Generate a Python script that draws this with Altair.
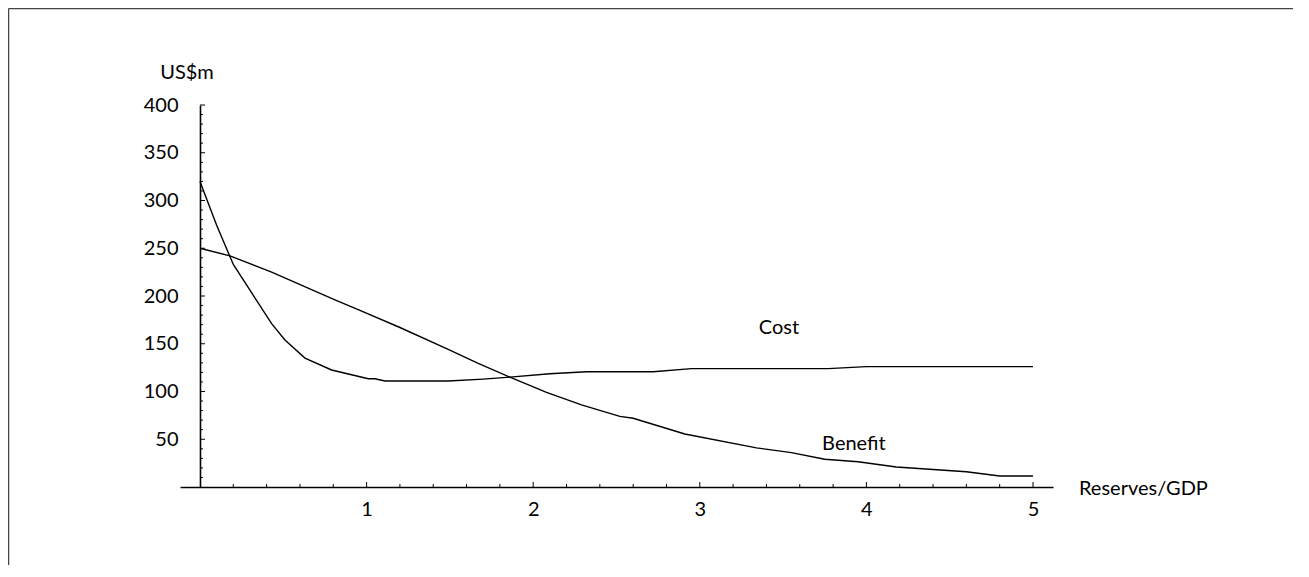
import altair as alt
import pandas as pd

# ---- data ----
COST_X = [0.0, 0.10, 0.20, 0.43, 0.51, 0.63, 0.79, 0.96, 1.01, 1.05, 1.11, 1.49, 1.70, 1.86, 2.10, 2.32, 2.72, 2.95, 3.77, 4.00, 5.00]
COST_Y = [320, 274, 233, 171, 154, 135, 122.5, 115.5, 113.4, 113.4, 111, 111, 113, 115, 118.6, 120.7, 120.7, 124, 124, 126, 126]

BENEFIT_X = [0.0, 0.18, 0.43, 0.81, 0.96, 1.20, 1.48, 1.67, 1.86, 2.08, 2.29, 2.52, 2.60, 2.91, 3.34, 3.55, 3.75, 3.95, 4.18, 4.60, 4.80, 5.00]
BENEFIT_Y = [250, 242, 225, 196, 185, 167, 145, 129.5, 115, 99, 86, 74, 72, 55.5, 41, 36, 29, 26.5, 21, 16, 11.5, 11.5]

X_LABELS = [1, 2, 3, 4, 5]
Y_LABELS = [50, 100, 150, 200, 250, 300, 350, 400]
X_MINOR = [round(0.2 * i, 1) for i in range(1, 26) if i % 5 != 0]
Y_MINOR = [10 * i for i in range(1, 40) if i % 5 != 0]

ANNOT_TEXT = ["US$m", "Cost", "Benefit"]
ANNOT_X = [-0.078, 3.475, 3.925]
ANNOT_Y = [433.5, 166, 45.5]
XTITLE = "Reserves/GDP"
XTITLE_POS = (5.276, -2.1)

XDOM = [-0.12, 5.12]
YDOM = [0, 400]
W, H = 873, 382
X0 = (0 - XDOM[0]) / (XDOM[1] - XDOM[0]) * W  # pixel of x=0
FONT = "Lato"
FS = 20

lines = pd.DataFrame(
    [{"x": a, "y": b, "s": "Cost"} for a, b in zip(COST_X, COST_Y)]
    + [{"x": a, "y": b, "s": "Benefit"} for a, b in zip(BENEFIT_X, BENEFIT_Y)]
)

xaxis = alt.Axis(values=X_LABELS, format="d", ticks=False, tickSize=0, grid=False, title=None,
                 domainColor="black", domainWidth=1.6, labelFont=FONT, labelFontSize=FS,
                 labelColor="black", labelPadding=12, labelFlush=False)
yaxis = alt.Axis(values=Y_LABELS, format="d", ticks=False, tickSize=0, grid=False, title=None,
                 offset=-X0, domainColor="black", domainWidth=1.6, labelFont=FONT, labelFontSize=FS,
                 labelColor="black", labelPadding=22, labelFlush=False)
xs = alt.Scale(domain=XDOM, nice=False, zero=False)
ys = alt.Scale(domain=YDOM, nice=False, zero=False)
X = alt.X("x:Q", scale=xs, axis=xaxis)
Y = alt.Y("y:Q", scale=ys, axis=yaxis)

line_layer = alt.Chart(lines).mark_line(color="black", strokeWidth=1.4).encode(x=X, y=Y, detail="s:N")

ymaj = alt.Chart(pd.DataFrame({"y": Y_LABELS})).mark_rule(color="black", strokeWidth=1).encode(
    y=Y, x=alt.value(X0), x2=alt.value(X0 + 5))
ymin = alt.Chart(pd.DataFrame({"y": Y_MINOR})).mark_rule(color="black", strokeWidth=1).encode(
    y=Y, x=alt.value(X0), x2=alt.value(X0 + 3))
xmaj = alt.Chart(pd.DataFrame({"x": X_LABELS})).mark_rule(color="black", strokeWidth=1).encode(
    x=X, y=alt.value(H), y2=alt.value(H - 5))
xmin = alt.Chart(pd.DataFrame({"x": X_MINOR})).mark_rule(color="black", strokeWidth=1).encode(
    x=X, y=alt.value(H), y2=alt.value(H - 3))

annot = alt.Chart(pd.DataFrame({"x": ANNOT_X, "y": ANNOT_Y, "t": ANNOT_TEXT})).mark_text(
    font=FONT, fontSize=FS, color="black", align="center", baseline="middle").encode(x=X, y=Y, text="t:N")
xtitle = alt.Chart(pd.DataFrame({"x": [XTITLE_POS[0]], "y": [XTITLE_POS[1]], "t": [XTITLE]})).mark_text(
    font=FONT, fontSize=FS, color="black", align="left", baseline="middle").encode(x=X, y=Y, text="t:N")

# frame (top and left edges)
frame_top = alt.Chart(pd.DataFrame({"a": [0]})).mark_rule(color="#444", strokeWidth=1.5).encode(
    x=alt.value(-171.5), x2=alt.value(1121), y=alt.value(-96.5))
frame_left = alt.Chart(pd.DataFrame({"a": [0]})).mark_rule(color="#444", strokeWidth=1.5).encode(
    x=alt.value(-171.5), y=alt.value(-96.5), y2=alt.value(490))

chart = alt.layer(frame_top, frame_left, ymin, ymaj, xmin, xmaj, line_layer, annot, xtitle).properties(
    width=W, height=H,
    background="white",
    autosize=alt.AutoSizeParams(type="none"),
    padding={"left": 172, "top": 97, "right": 240, "bottom": 78},
).configure_view(stroke="transparent", strokeWidth=0)

chart.save("out.html", embed_options={"renderer": "svg", "actions": False})
